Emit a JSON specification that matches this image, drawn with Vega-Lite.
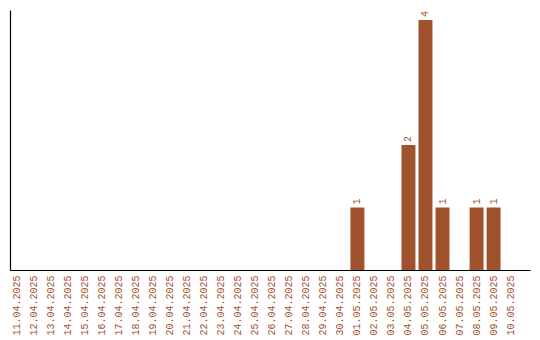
{
  "$schema": "https://vega.github.io/schema/vega-lite/v6.json",
  "width": 520,
  "height": 260,
  "autosize": {"type": "none"},
  "padding": {"left": 10, "top": 10, "right": 10, "bottom": 70},
  "background": "white",
  "config": {"view": {"stroke": null}, "font": "Liberation Mono"},
  "data": {"values": [
    {"date": "11.04.2025", "count": 0},
    {"date": "12.04.2025", "count": 0},
    {"date": "13.04.2025", "count": 0},
    {"date": "14.04.2025", "count": 0},
    {"date": "15.04.2025", "count": 0},
    {"date": "16.04.2025", "count": 0},
    {"date": "17.04.2025", "count": 0},
    {"date": "18.04.2025", "count": 0},
    {"date": "19.04.2025", "count": 0},
    {"date": "20.04.2025", "count": 0},
    {"date": "21.04.2025", "count": 0},
    {"date": "22.04.2025", "count": 0},
    {"date": "23.04.2025", "count": 0},
    {"date": "24.04.2025", "count": 0},
    {"date": "25.04.2025", "count": 0},
    {"date": "26.04.2025", "count": 0},
    {"date": "27.04.2025", "count": 0},
    {"date": "28.04.2025", "count": 0},
    {"date": "29.04.2025", "count": 0},
    {"date": "30.04.2025", "count": 0},
    {"date": "01.05.2025", "count": 1},
    {"date": "02.05.2025", "count": 0},
    {"date": "03.05.2025", "count": 0},
    {"date": "04.05.2025", "count": 2},
    {"date": "05.05.2025", "count": 4},
    {"date": "06.05.2025", "count": 1},
    {"date": "07.05.2025", "count": 0},
    {"date": "08.05.2025", "count": 1},
    {"date": "09.05.2025", "count": 1},
    {"date": "10.05.2025", "count": 0}
  ]},
  "encoding": {
    "x": {
      "field": "date", "type": "nominal", "sort": null,
      "scale": {"paddingInner": 0.18, "paddingOuter": 0.365, "align": 0},
      "axis": {
        "title": null, "labelAngle": -90, "ticks": false, "labelPadding": 5,
        "labelColor": "#A0522D", "labelFont": "Liberation Mono", "labelFontSize": 10,
        "domainColor": "black", "domainWidth": 1.2
      }
    },
    "y": {
      "field": "count", "type": "quantitative",
      "scale": {"domain": [0, 4.16], "nice": false},
      "axis": {"title": null, "labels": false, "ticks": false, "grid": false, "domainColor": "black", "domainWidth": 1.2}
    }
  },
  "layer": [
    {"mark": {"type": "bar", "color": "#A0522D"}},
    {
      "transform": [{"filter": "datum.count > 0"}],
      "mark": {"type": "text", "angle": 270, "align": "left", "baseline": "middle", "dx": 3, "color": "#A0522D", "font": "Liberation Mono", "fontSize": 10},
      "encoding": {"text": {"field": "count", "type": "quantitative"}}
    }
  ]
}
